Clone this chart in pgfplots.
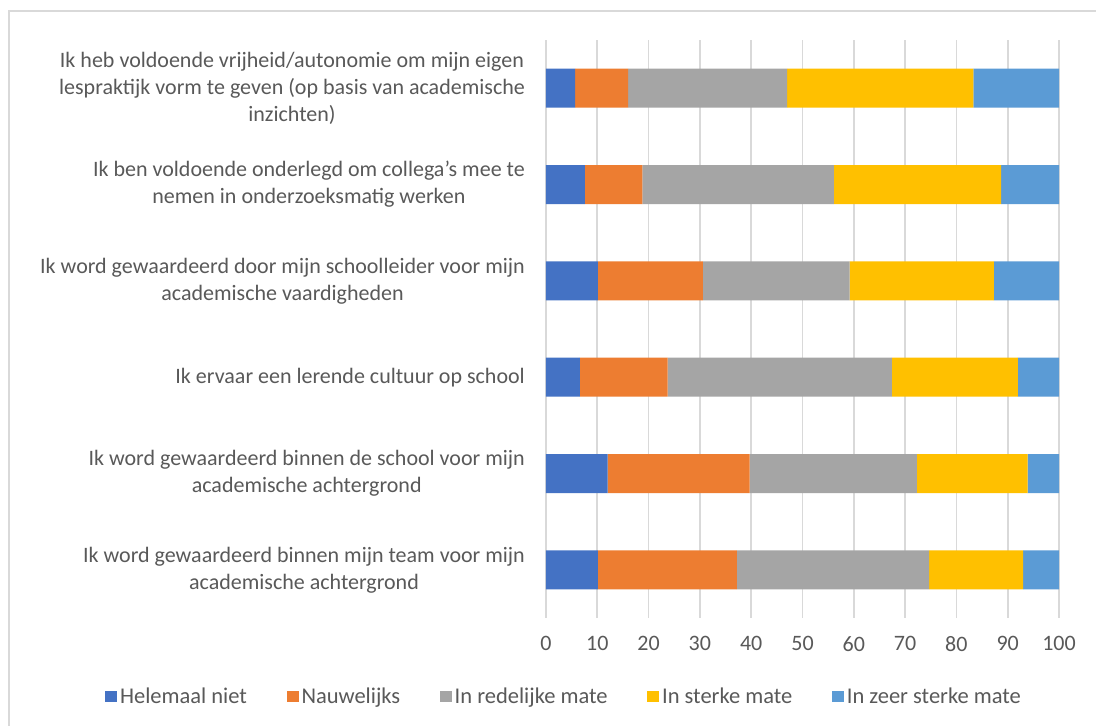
\documentclass[border=0pt]{standalone}
\usepackage{pgfplots}
\pgfplotsset{compat=1.18}
\usepackage{fontspec}
\setmainfont{Carlito}
\definecolor{cBlue}{HTML}{4472C4}
\definecolor{cOrange}{HTML}{ED7D31}
\definecolor{cGray}{HTML}{A5A5A5}
\definecolor{cYellow}{HTML}{FFC000}
\definecolor{cLBlue}{HTML}{5B9BD5}
\definecolor{cText}{HTML}{595959}
\definecolor{cGrid}{HTML}{D9D9D9}
\begin{document}
\begin{tikzpicture}
\useasboundingbox (0pt,0pt) rectangle (1096pt,726pt);
\fill[white] (0pt,0pt) rectangle (1096pt,726pt);
\draw[cGrid, line width=1.5pt] (9pt,715pt) rectangle (1110pt,-10pt);
\begin{axis}[
  at={(546pt,108pt)}, anchor=south west,
  scale only axis, width=513pt, height=578pt,
  xbar stacked, bar width=39pt,
  xmin=0, xmax=100, ymin=0.5, ymax=6.5, y dir=reverse,
  xtick={0,10,...,100},
  ytick={1,2,3,4,5,6},
  yticklabels={
    {Ik heb voldoende vrijheid/autonomie om mijn eigen\\lespraktijk vorm te geven (op basis van academische\\inzichten)},
    {Ik ben voldoende onderlegd om collega’s mee te\\nemen in onderzoeksmatig werken},
    {Ik word gewaardeerd door mijn schoolleider voor mijn\\academische vaardigheden},
    {Ik ervaar een lerende cultuur op school},
    {Ik word gewaardeerd binnen de school voor mijn\\academische achtergrond},
    {Ik word gewaardeerd binnen mijn team voor mijn\\academische achtergrond}},
  yticklabel style={align=center, font=\fontsize{22}{27}\selectfont, text=cText, inner xsep=0pt, xshift=-21pt},
  xticklabel style={font=\fontsize{22}{27}\selectfont, text=cText, yshift=-15pt},
  /pgf/number format/assume math mode=true,
  axis line style={draw=none},
  major tick length=0pt,
  xmajorgrids, grid style={cGrid, line width=1.8pt},
  legend columns=5,
  legend style={at={(0.036,-0.135)}, anchor=center, draw=none, fill=none,
    font=\fontsize{22.5}{27}\selectfont, text=cText,
    /tikz/every even column/.append style={column sep=36.5pt},
    nodes={inner xsep=3pt}},
  legend image code/.code={\path[#1] (0pt,-5.5pt) rectangle (12pt,5.5pt);},
]
\addplot[fill=cBlue, draw=none] coordinates {(5.7,1) (7.6,2) (10.1,3) (6.6,4) (12.0,5) (10.1,6)};
\addplot[fill=cOrange, draw=none] coordinates {(10.3,1) (11.2,2) (20.5,3) (17.1,4) (27.7,5) (27.1,6)};
\addplot[fill=cGray, draw=none] coordinates {(31.0,1) (37.3,2) (28.6,3) (43.7,4) (32.6,5) (37.5,6)};
\addplot[fill=cYellow, draw=none] coordinates {(36.3,1) (32.6,2) (28.1,3) (24.6,4) (21.6,5) (18.3,6)};
\addplot[fill=cLBlue, draw=none] coordinates {(16.7,1) (11.3,2) (12.7,3) (8.0,4) (6.1,5) (7.0,6)};
\legend{Helemaal niet, Nauwelijks, In redelijke mate, In sterke mate, In zeer sterke mate}
\end{axis}
\end{tikzpicture}
\end{document}
